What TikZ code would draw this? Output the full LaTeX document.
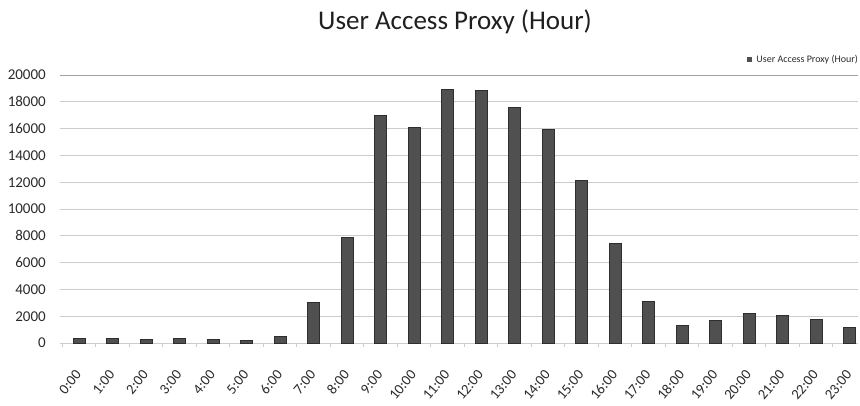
\documentclass[tikz,border=0pt]{standalone}
\usepackage{fontspec}
\setmainfont{Carlito}
\usetikzlibrary{positioning}
\definecolor{gridgray}{HTML}{CCCCCC}
\definecolor{topgray}{HTML}{A0A0A0}
\definecolor{bargray}{HTML}{505050}
\definecolor{bardark}{HTML}{2E2E2E}
\definecolor{labelgray}{HTML}{2A2A2A}
\begin{document}
\begin{tikzpicture}[x=1pt,y=-1pt,
  gridline/.style={draw=gridgray, line width=0.8pt},
  barbox/.style={fill=bargray, draw=bardark, line width=0.6pt},
  ylab/.style={anchor=east, font=\fontsize{15}{17}\selectfont, text=labelgray, inner sep=0pt},
  xlab/.style={anchor=east, rotate=50, font=\fontsize{14.5}{16}\selectfont, text=labelgray, inner sep=0pt},
  titlestyle/.style={font=\fontsize{27}{32}\selectfont, text=black!88, inner sep=0pt},
  legtext/.style={anchor=east, font=\fontsize{10}{12}\selectfont, text=labelgray, inner sep=0pt}]
\useasboundingbox (0,0) rectangle (860,406);
\node[titlestyle] (title) at (455,22) {User Access Proxy (Hour)};
% grid and y labels
\foreach \k/\val in {0/0,1/2000,2/4000,3/6000,4/8000,5/10000,6/12000,7/14000,8/16000,9/18000,10/20000} {
  \pgfmathsetmacro\yy{343-\k*26.8}
  \ifnum\k=10
    \draw[draw=topgray, line width=0.9pt] (60,\yy) -- (858,\yy);
  \else
    \draw[gridline] (60,\yy) -- (858,\yy);
  \fi
  \node[ylab] (y\k) at (46,\yy) {\val};
}
% category ticks
\foreach \k in {0,...,24} {
  \draw[draw=gridgray, line width=0.6pt] (62.25+\k*33.5,343) -- (62.25+\k*33.5,347);
}
% bars and x labels (values in hundreds)
\foreach \v [count=\i from 0] in {3.5,3.5,2.8,3.5,3.0,1.8,4.8,30.4,79,170,161,189.5,188.3,175.6,159.7,121.6,74.6,30.8,13.4,16.6,22.1,20.9,17.9,11.7} {
  \pgfmathsetmacro\cx{79+\i*33.5}
  \pgfmathsetmacro\tp{343-\v*1.34}
  \filldraw[barbox] (\cx-6,343) rectangle (\cx+6,\tp);
  \node[xlab] (x\i) at (\cx-0.5,372) {\i:00};
}
% legend
\node[legtext] (leg) at (858,60) {User Access Proxy (Hour)};
\node[fill=bargray, minimum size=5pt, inner sep=0pt, left=4pt of leg] (legsq) {};
\end{tikzpicture}
\end{document}
